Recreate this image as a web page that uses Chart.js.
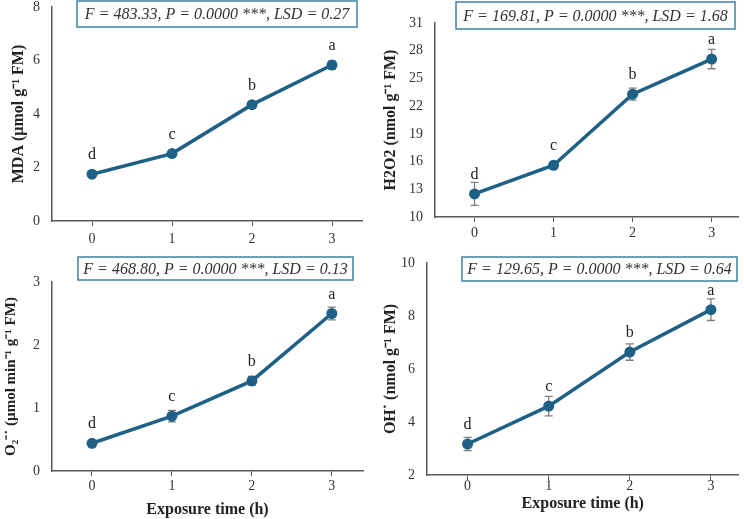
<!DOCTYPE html>
<html>
<head>
<meta charset="utf-8">
<script src="https://cdn.jsdelivr.net/npm/chart.js@4.4.0/dist/chart.umd.min.js"></script>
<style>
  body { margin: 0; background: #fff; width: 744px; height: 519px; position: relative; overflow: hidden; }
  canvas { position: absolute; }
</style>
</head>
<body>
<canvas id="c1" width="372" height="255" style="left:0;top:0"></canvas>
<canvas id="c2" width="372" height="255" style="left:372px;top:0"></canvas>
<canvas id="c3" width="372" height="264" style="left:0;top:255px"></canvas>
<canvas id="c4" width="372" height="264" style="left:372px;top:255px"></canvas>
<script>
// data
const hours = [0, 1, 2, 3]
const letters = ['d', 'c', 'b', 'a']

const mda = [1.75, 2.52, 4.35, 5.83]
const mdaErr = [0.07, 0.1, 0.1, 0.15]
const mdaTicks = [0, 2, 4, 6, 8]

const h2o2 = [12.5, 15.6, 23.3, 27.1]
const h2o2Err = [1.25, 0.3, 0.65, 1.05]
const h2o2Ticks = [10, 13, 16, 19, 22, 25, 28, 31]

const o2 = [0.44, 0.87, 1.43, 2.5]
const o2Err = [0.02, 0.09, 0.07, 0.1]
const o2Ticks = [0, 1, 2, 3]

const oh = [3.17, 4.6, 6.64, 8.24]
const ohErr = [0.25, 0.37, 0.31, 0.41]
const ohTicks = [2, 4, 6, 8, 10]

const stats = [
  'F = 483.33, P = 0.0000 ***, LSD = 0.27',
  'F = 169.81, P = 0.0000 ***, LSD = 1.68',
  'F = 468.80, P = 0.0000 ***, LSD = 0.13',
  'F = 129.65, P = 0.0000 ***, LSD = 0.64'
]

const lineColor = '#1f6086'
const boxColor = '#3f7fa5'
const axisColor = '#595959'
const serif = '"Liberation Serif", "Times New Roman", serif'

function panel(id, o) {
  const extras = {
    id: 'extras',
    beforeDatasetsDraw(chart) {
      // error bars
      const ctx = chart.ctx, xs = chart.scales.x, ys = chart.scales.y
      ctx.save()
      ctx.strokeStyle = '#7f7f7f'
      ctx.lineWidth = 1.3
      o.y.forEach((v, i) => {
        const x = xs.getPixelForValue(hours[i])
        const t = ys.getPixelForValue(v + o.err[i])
        const b = ys.getPixelForValue(v - o.err[i])
        ctx.beginPath()
        ctx.moveTo(x, t); ctx.lineTo(x, b)
        ctx.moveTo(x - 4, t); ctx.lineTo(x + 4, t)
        ctx.moveTo(x - 4, b); ctx.lineTo(x + 4, b)
        ctx.stroke()
      })
      ctx.restore()
    },
    afterDatasetsDraw(chart) {
      const ctx = chart.ctx, xs = chart.scales.x, ys = chart.scales.y
      ctx.save()
      // significance letters
      ctx.font = '16px ' + serif
      ctx.fillStyle = '#222'
      ctx.textAlign = 'center'
      ctx.textBaseline = 'middle'
      o.y.forEach((v, i) => {
        ctx.fillText(letters[i], xs.getPixelForValue(hours[i]), ys.getPixelForValue(v) - 19)
      })
      // stats box
      const [bx, by, bw, bh] = o.box
      ctx.fillStyle = '#fff'
      ctx.fillRect(bx, by, bw, bh)
      ctx.strokeStyle = boxColor
      ctx.lineWidth = 1.5
      ctx.strokeRect(bx, by, bw, bh)
      ctx.fillStyle = '#333'
      ctx.font = 'italic 16px ' + serif
      ctx.fillText(o.stat, bx + bw / 2, by + bh / 2 + 1)
      ctx.restore()
    }
  }

  return new Chart(document.getElementById(id), {
    type: 'line',
    data: {
      datasets: [{
        data: hours.map((h, i) => ({ x: h, y: o.y[i] })),
        borderColor: lineColor,
        backgroundColor: lineColor,
        borderWidth: 3.5,
        pointRadius: 5.5,
        pointBorderWidth: 0,
        pointHoverRadius: 5.5,
        tension: 0
      }]
    },
    options: {
      responsive: false,
      animation: false,
      devicePixelRatio: 1,
      layout: { padding: { left: 0, right: o.padRight, top: o.padTop, bottom: 0 } },
      plugins: { legend: { display: false }, tooltip: { enabled: false } },
      scales: {
        x: {
          type: 'linear',
          min: -0.5,
          max: o.xmax,
          afterBuildTicks: s => { s.ticks = hours.map(v => ({ value: v })) },
          afterFit: s => { s.height = o.xh },
          grid: { drawOnChartArea: false, drawTicks: true, tickLength: 5, color: axisColor },
          border: { color: axisColor, width: 1.5 },
          ticks: { font: { family: serif, size: 14 }, color: '#333', padding: o.xpad, maxRotation: 0 },
          title: o.xtitle ? {
            display: true, text: 'Exposure time (h)', color: '#222',
            font: { family: serif, size: 16, weight: 'bold' },
            padding: { top: 0, bottom: o.xtpad }
          } : { display: false }
        },
        y: {
          min: o.ticks[0],
          max: o.ticks[o.ticks.length - 1],
          afterBuildTicks: s => { s.ticks = o.ticks.map(v => ({ value: v })) },
          afterFit: s => { s.width = o.yw; s.paddingTop = 0; s.paddingBottom = 0 },
          grid: { display: false, drawTicks: false },
          border: { color: axisColor, width: 1.5 },
          ticks: { font: { family: serif, size: 14 }, color: '#333', padding: 12 },
          title: {
            display: true, text: o.ytitle, color: '#222',
            font: { family: serif, size: o.ytsize || 16, weight: 'bold' },
            padding: { top: o.ytpad, bottom: 0 }
          }
        }
      }
    },
    plugins: [extras]
  })
}

panel('c1', {
  y: mda, err: mdaErr, ticks: mdaTicks, stat: stats[0],
  ytitle: 'MDA (µmol g⁻¹ FM)', ytpad: 9,
  yw: 52, padRight: 10, padTop: 7, xh: 34, xpad: 5, xmax: 3.375,
  box: [77, 1, 280, 26], xtitle: false
})
panel('c2', {
  y: h2o2, err: h2o2Err, ticks: h2o2Ticks, stat: stats[1],
  ytitle: 'H2O2 (nmol g⁻¹ FM)', ytpad: 9,
  yw: 63, padRight: 2, padTop: 23, xh: 38, xpad: 3, xmax: 3.34,
  box: [84, 2, 279, 27], xtitle: false
})
panel('c3', {
  y: o2, err: o2Err, ticks: o2Ticks, stat: stats[2],
  ytitle: 'O₂⁻˙ (µmol min⁻¹ g⁻¹ FM)', ytpad: 2, ytsize: 15,
  yw: 52, padRight: 9, padTop: 27, xh: 48, xpad: 2, xmax: 3.39,
  box: [78, 2, 275, 23], xtitle: true, xtpad: 0
})
panel('c4', {
  y: oh, err: ohErr, ticks: ohTicks, stat: stats[3],
  ytitle: 'OH˙ (nmol g⁻¹ FM)', ytpad: 9,
  yw: 55, padRight: 2, padTop: 8, xh: 44, xpad: -2, xmax: 3.34,
  box: [90, 2, 275, 24], xtitle: true, xtpad: 6
})
</script>
</body>
</html>
